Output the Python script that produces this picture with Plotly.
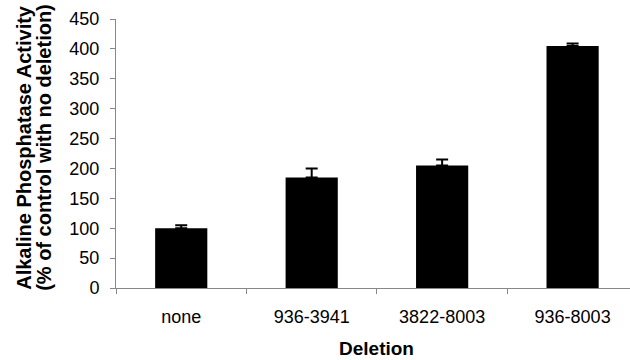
import plotly.graph_objects as go

categories = ["none", "936-3941", "3822-8003", "936-8003"]
activity = [100, 185, 205, 405]
error_plus = [5, 15, 10, 4]
error_minus = [0, 0, 0, 0]
y_ticks = [0, 50, 100, 150, 200, 250, 300, 350, 400, 450]
y_title_lines = ["Alkaline Phosphatase Activity", "(% of control with no deletion)"]
x_title = "Deletion"

FONT = "Liberation Sans, Arial, sans-serif"
AXIS_GRAY = "#888888"

fig = go.Figure()
fig.add_trace(go.Bar(
    x=categories,
    y=activity,
    marker=dict(color="black", line=dict(width=0)),
    error_y=dict(type="data", array=error_plus, arrayminus=error_minus,
                 symmetric=False, color="black", thickness=2, width=6),
    showlegend=False,
))

fig.update_layout(
    width=630, height=360,
    margin=dict(l=116, r=0, t=19, b=72, autoexpand=False),
    paper_bgcolor="white", plot_bgcolor="white",
    bargap=0.6,
    font=dict(family=FONT, size=18, color="black"),
    xaxis=dict(
        type="category", range=[-0.5, 3.44],
        showline=True, linecolor=AXIS_GRAY, linewidth=1,
        ticks="outside", tickson="boundaries", ticklen=5, tickcolor=AXIS_GRAY,
        showgrid=False, zeroline=False, ticklabelstandoff=12,
        tickfont=dict(family=FONT, size=18, color="black"),
    ),
    yaxis=dict(
        range=[0, 450], tickvals=y_ticks,
        showline=True, linecolor=AXIS_GRAY, linewidth=1,
        ticks="outside", ticklen=5, tickcolor=AXIS_GRAY,
        showgrid=False, zeroline=False, ticklabelstandoff=7,
        tickfont=dict(family=FONT, size=18, color="black"),
    ),
)

fig.add_annotation(text="<b>%s</b>" % y_title_lines[0], xref="paper", yref="paper",
                   x=-0.1805, y=0.522, xanchor="center", yanchor="middle",
                   textangle=-90, showarrow=False,
                   font=dict(family=FONT, size=20, color="black"))
fig.add_annotation(text="<b>%s</b>" % y_title_lines[1], xref="paper", yref="paper",
                   x=-0.1415, y=0.522, xanchor="center", yanchor="middle",
                   textangle=-90, showarrow=False,
                   font=dict(family=FONT, size=20, color="black"))
fig.add_annotation(text="<b>%s</b>" % x_title, xref="x", yref="paper",
                   x=1.5, y=-0.224, xanchor="center", yanchor="middle",
                   showarrow=False,
                   font=dict(family=FONT, size=19, color="black"))

fig.write_html("out.html",
               config={"displayModeBar": False, "staticPlot": True},
               post_script="document.body.style.margin='0';document.body.style.overflow='hidden';")
